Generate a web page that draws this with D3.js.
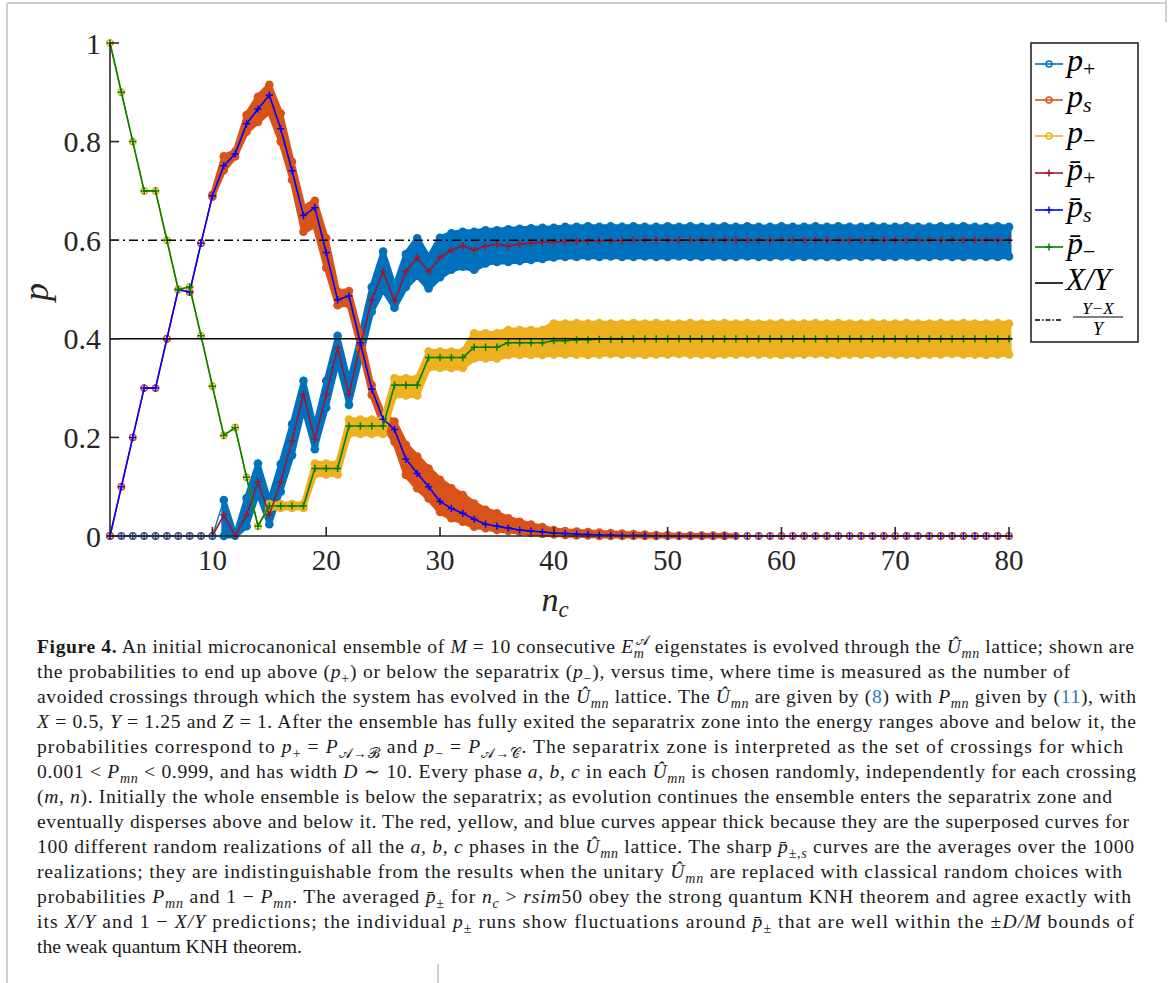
<!DOCTYPE html>
<html><head><meta charset="utf-8">
<script src="https://cdn.jsdelivr.net/npm/d3@7"></script>
<style>body{margin:0;background:#fff;} svg{display:block;}</style>
</head><body>
<svg id="c" width="1170" height="983"></svg>
<script>
// ---------------- DATA ----------------
const nc = [1,2,3,4,5,6,7,8,9,10,11,12,13,14,15,16,17,18,19,20,21,22,23,24,25,26,27,28,29,30,31,32,33,34,35,36,37,38,39,40,41,42,43,44,45,46,47,48,49,50,51,52,53,54,55,56,57,58,59,60,61,62,63,64,65,66,67,68,69,70,71,72,73,74,75,76,77,78,79,80];

// averaged curves (1000 realizations)
const pBarPlus = [0,0,0,0,0,0,0,0,0,0,
  0.043,0,0.043,0.11,0.043,0.11,0.193,0.287,0.196,0.287,
  0.381,0.288,0.387,0.479,0.536,0.477,0.536,0.565,0.536,0.565,
  0.58,0.588,0.58,0.588,0.592,0.588,0.592,0.594,0.596,0.596,
  0.597,0.598,0.598,0.599,0.599,0.599,0.6,0.6,0.6,0.6,
  0.6,0.6,0.6,0.6,0.6,0.6,0.6,0.6,0.6,0.6,
  0.6,0.6,0.6,0.6,0.6,0.6,0.6,0.6,0.6,0.6,
  0.6,0.6,0.6,0.6,0.6,0.6,0.6,0.6,0.6,0.6];
const pBarS = [0,0.1,0.2,0.3,0.3,0.4,0.5,0.495,0.594,0.69,
  0.751,0.775,0.836,0.866,0.894,0.826,0.741,0.65,0.666,0.575,
  0.479,0.487,0.392,0.298,0.237,0.216,0.156,0.127,0.1,0.07,
  0.056,0.046,0.034,0.024,0.02,0.016,0.012,0.01,0.008,0.006,
  0.005,0.004,0.003,0.002,0.002,0.001,0.001,0.001,0,0,
  0,0,0,0,0,0,0,0,0,0,
  0,0,0,0,0,0,0,0,0,0,
  0,0,0,0,0,0,0,0,0,0];
const pBarMinus = [1,0.9,0.8,0.7,0.7,0.6,0.5,0.505,0.406,0.304,
  0.204,0.22,0.119,0.02,0.061,0.061,0.061,0.061,0.137,0.137,
  0.137,0.223,0.223,0.223,0.223,0.306,0.306,0.306,0.362,0.362,
  0.362,0.362,0.383,0.383,0.383,0.392,0.392,0.392,0.392,0.396,
  0.396,0.398,0.398,0.399,0.399,0.399,0.4,0.4,0.4,0.4,
  0.4,0.4,0.4,0.4,0.4,0.4,0.4,0.4,0.4,0.4,
  0.4,0.4,0.4,0.4,0.4,0.4,0.4,0.4,0.4,0.4,
  0.4,0.4,0.4,0.4,0.4,0.4,0.4,0.4,0.4,0.4];

// spread of the 100 individual realizations (lowest / highest curve)
const pPlusLo = [0,0,0,0,0,0,0,0,0,0,
  0,0,0.02,0.088,0.024,0.09,0.164,0.26,0.176,0.26,
  0.355,0.266,0.36,0.455,0.5,0.463,0.505,0.528,0.502,0.525,
  0.54,0.546,0.54,0.553,0.556,0.556,0.558,0.56,0.562,0.565,
  0.566,0.566,0.567,0.566,0.567,0.566,0.566,0.567,0.566,0.566,
  0.567,0.566,0.566,0.567,0.566,0.566,0.567,0.566,0.566,0.567,
  0.566,0.566,0.567,0.566,0.566,0.567,0.566,0.567,0.566,0.566,
  0.567,0.566,0.566,0.567,0.566,0.566,0.567,0.566,0.566,0.567];
const pPlusHi = [0,0,0,0,0,0,0,0,0,0,
  0.073,0,0.077,0.147,0.07,0.146,0.227,0.315,0.22,0.315,
  0.406,0.312,0.405,0.505,0.577,0.505,0.572,0.604,0.565,0.605,
  0.614,0.617,0.617,0.62,0.62,0.622,0.623,0.624,0.625,0.625,
  0.627,0.627,0.628,0.627,0.628,0.627,0.628,0.627,0.627,0.628,
  0.627,0.628,0.627,0.627,0.628,0.627,0.628,0.627,0.627,0.628,
  0.627,0.627,0.628,0.627,0.628,0.627,0.627,0.628,0.627,0.627,
  0.628,0.627,0.627,0.628,0.627,0.628,0.627,0.627,0.628,0.627];
const pSLo = [0,0.1,0.2,0.3,0.3,0.4,0.5,0.495,0.594,0.688,
  0.742,0.77,0.82,0.84,0.861,0.8,0.722,0.617,0.63,0.544,
  0.468,0.47,0.381,0.286,0.225,0.191,0.124,0.097,0.076,0.049,
  0.036,0.029,0.019,0.016,0.012,0.01,0.008,0.006,0.004,0.003,
  0.002,0.001,0.001,0,0,0,0,0,0,0,
  0,0,0,0,0,0,0,0,0,0,
  0,0,0,0,0,0,0,0,0,0,
  0,0,0,0,0,0,0,0,0,0];
const pSHi = [0,0.1,0.2,0.3,0.3,0.4,0.5,0.495,0.594,0.692,
  0.77,0.78,0.854,0.891,0.915,0.857,0.759,0.665,0.68,0.604,
  0.496,0.497,0.408,0.306,0.245,0.232,0.185,0.161,0.137,0.114,
  0.097,0.083,0.066,0.053,0.046,0.036,0.029,0.023,0.018,0.012,
  0.01,0.009,0.008,0.007,0.006,0.005,0.004,0.003,0.002,0.002,
  0.001,0.001,0.001,0.001,0.001,0,0,0,0,0,
  0,0,0,0,0,0,0,0,0,0,
  0,0,0,0,0,0,0,0,0,0];
const pMinusLo = [1,0.9,0.8,0.7,0.7,0.6,0.5,0.505,0.406,0.304,
  0.204,0.22,0.119,0.02,0.057,0.057,0.057,0.057,0.125,0.125,
  0.125,0.207,0.207,0.207,0.207,0.285,0.285,0.285,0.341,0.341,
  0.341,0.341,0.36,0.36,0.36,0.367,0.367,0.367,0.367,0.368,
  0.368,0.368,0.367,0.368,0.369,0.368,0.368,0.367,0.368,0.368,
  0.369,0.368,0.368,0.367,0.368,0.368,0.369,0.368,0.368,0.367,
  0.368,0.368,0.369,0.368,0.367,0.368,0.368,0.368,0.369,0.368,
  0.368,0.367,0.368,0.368,0.369,0.368,0.368,0.367,0.368,0.368];
const pMinusHi = [1,0.9,0.8,0.7,0.7,0.6,0.5,0.505,0.406,0.304,
  0.204,0.22,0.119,0.02,0.065,0.065,0.065,0.065,0.147,0.147,
  0.147,0.236,0.236,0.236,0.236,0.32,0.32,0.32,0.374,0.374,
  0.374,0.374,0.411,0.411,0.411,0.418,0.418,0.418,0.418,0.431,
  0.431,0.432,0.431,0.432,0.431,0.431,0.432,0.431,0.432,0.431,
  0.431,0.432,0.431,0.431,0.432,0.431,0.432,0.431,0.431,0.432,
  0.431,0.431,0.432,0.431,0.432,0.431,0.431,0.432,0.431,0.431,
  0.432,0.431,0.431,0.432,0.431,0.432,0.431,0.431,0.432,0.431];

const XoverY = 0.4;        // X/Y
const YminusXoverY = 0.6;  // (Y-X)/Y
const xTicks = [10,20,30,40,50,60,70,80];
const yTicks = [0,0.2,0.4,0.6,0.8,1];
const yTickLabels = ['0','0.2','0.4','0.6','0.8','1'];

// ---------------- DRAW ----------------
const svg = d3.select('#c');
const x = d3.scaleLinear().domain([1,80]).range([110,1009]);
const y = d3.scaleLinear().domain([0,1]).range([536,43]);

const C = {plus:'#0072BD', s:'#D95319', minus:'#EDB120', bPlus:'#A2142F', bS:'#0000FF', bMinus:'#008000', ax:'#262626'};
const serif = "'Liberation Serif','DejaVu Serif',serif";

// page frame lines
const frame = svg.append('g').attr('stroke','#cfcfcf').attr('stroke-width',2);
frame.append('line').attr('x1',7).attr('x2',7).attr('y1',3).attr('y2',983);
frame.append('line').attr('x1',7).attr('x2',1166).attr('y1',3).attr('y2',3);
frame.append('line').attr('x1',1166).attr('x2',1166).attr('y1',0).attr('y2',22);
frame.append('line').attr('x1',438).attr('x2',438).attr('y1',964).attr('y2',983);

const plot = svg.append('g');

function band(lo, hi, color){
  const g = plot.append('g');
  const w = lo.map((v,i)=>hi[i]-v);
  const thick = d3.area().defined((d,i)=> w[i]>0 || (i>0 && w[i-1]>0))
      .x((d,i)=>x(nc[i])).y0((d,i)=>y(lo[i])).y1((d,i)=>y(hi[i]));
  g.append('path').datum(nc).attr('d',thick).attr('fill',color).attr('stroke',color)
    .attr('stroke-width',5).attr('stroke-linejoin','round');
  const ln = vals => d3.line().x((d,i)=>x(nc[i])).y((d,i)=>y(vals[i]));
  g.append('path').datum(nc).attr('d',ln(lo)).attr('fill','none').attr('stroke',color).attr('stroke-width',1.3);
  g.append('path').datum(nc).attr('d',ln(hi)).attr('fill','none').attr('stroke',color).attr('stroke-width',1.3);
  nc.forEach((n,i)=>{
    if (w[i]>0){
      [lo[i],hi[i]].forEach(v=> g.append('circle').attr('cx',x(n)).attr('cy',y(v)).attr('r',4.3).attr('fill',color));
    } else {
      g.append('circle').attr('cx',x(n)).attr('cy',y(lo[i])).attr('r',3.2)
        .attr('fill','none').attr('stroke',color).attr('stroke-width',1.5);
    }
  });
}
band(pPlusLo,pPlusHi,C.plus);
band(pSLo,pSHi,C.s);
band(pMinusLo,pMinusHi,C.minus);

const plusPath = 'M-3.6,0H3.6M0,-3.6V3.6';
function meanLine(vals,color){
  const g = plot.append('g');
  g.append('path').datum(nc).attr('d',d3.line().x((d,i)=>x(nc[i])).y((d,i)=>y(vals[i])))
    .attr('fill','none').attr('stroke',color).attr('stroke-width',1.6).attr('stroke-linejoin','round');
  g.selectAll('path.m').data(nc).enter().append('path').attr('class','m')
    .attr('d',plusPath).attr('transform',(d,i)=>`translate(${x(d)},${y(vals[i])})`)
    .attr('stroke',color).attr('stroke-width',1.5);
}
meanLine(pBarPlus,C.bPlus);
meanLine(pBarS,C.bS);
meanLine(pBarMinus,C.bMinus);

plot.append('line').attr('x1',x(1)).attr('x2',1012).attr('y1',y(XoverY)).attr('y2',y(XoverY))
  .attr('stroke','#000').attr('stroke-width',1.6);
plot.append('line').attr('x1',x(1)).attr('x2',1012).attr('y1',y(YminusXoverY)).attr('y2',y(YminusXoverY))
  .attr('stroke','#000').attr('stroke-width',1.6).attr('stroke-dasharray','9,4,2,4');

// axes
const ax = svg.append('g');
ax.append('line').attr('x1',x(1)).attr('x2',x(1)).attr('y1',y(1)).attr('y2',y(0)).attr('stroke',C.ax).attr('stroke-width',1.6);
ax.append('line').attr('x1',x(1)).attr('x2',1012).attr('y1',y(0)).attr('y2',y(0)).attr('stroke',C.ax).attr('stroke-width',1.6);
yTicks.forEach((t,i)=>{
  ax.append('line').attr('x1',x(1)).attr('x2',x(1)+9).attr('y1',y(t)).attr('y2',y(t)).attr('stroke',C.ax).attr('stroke-width',1.6);
  ax.append('text').attr('x',x(1)-9).attr('y',y(t)).attr('dy','0.35em').attr('text-anchor','end')
    .attr('font-family',serif).attr('font-size',30).attr('fill',C.ax).text(yTickLabels[i]);
});
xTicks.forEach(t=>{
  ax.append('line').attr('x1',x(t)).attr('x2',x(t)).attr('y1',y(0)).attr('y2',y(0)-9).attr('stroke',C.ax).attr('stroke-width',1.6);
  ax.append('text').attr('x',x(t)).attr('y',570).attr('text-anchor','middle')
    .attr('font-family',serif).attr('font-size',29).attr('fill',C.ax).text(t);
});
// axis labels
ax.append('text').attr('transform','translate(48,292) rotate(-90)').attr('text-anchor','middle')
  .attr('font-family',serif).attr('font-style','italic').attr('font-size',36).attr('fill',C.ax).text('p');
const xl = ax.append('text').attr('x',555).attr('y',611).attr('text-anchor','middle')
  .attr('font-family',serif).attr('font-style','italic').attr('font-size',34).attr('fill',C.ax);
xl.append('tspan').text('n');
xl.append('tspan').attr('font-size',23).attr('dy',6).text('c');

// legend
const lg = svg.append('g');
lg.append('rect').attr('x',1031).attr('y',43).attr('width',107).attr('height',299)
  .attr('fill','#fff').attr('stroke',C.ax).attr('stroke-width',1.6);
const legendItems = [
  {c:C.plus, m:'o', base:'p', sub:'+', bar:false},
  {c:C.s, m:'o', base:'p', sub:'s', bar:false},
  {c:C.minus, m:'o', base:'p', sub:'\u2212', bar:false},
  {c:C.bPlus, m:'+', base:'p', sub:'+', bar:true},
  {c:C.bS, m:'+', base:'p', sub:'s', bar:true},
  {c:C.bMinus, m:'+', base:'p', sub:'\u2212', bar:true}
];
const ly = [64,100,136,173,210,247,283,320];
legendItems.forEach((it,i)=>{
  lg.append('line').attr('x1',1035).attr('x2',1063).attr('y1',ly[i]).attr('y2',ly[i]).attr('stroke',it.c).attr('stroke-width',1.6);
  if (it.m==='o') lg.append('circle').attr('cx',1049).attr('cy',ly[i]).attr('r',3).attr('fill','none').attr('stroke',it.c).attr('stroke-width',1.5);
  else lg.append('path').attr('d',plusPath).attr('transform',`translate(1049,${ly[i]})`).attr('stroke',it.c).attr('stroke-width',1.5);
  const t = lg.append('text').attr('x',1067).attr('y',ly[i]+7).attr('font-family',serif).attr('font-style','italic')
    .attr('font-size',32).attr('fill','#000');
  t.append('tspan').text(it.bar ? 'p\u0304' : 'p');
  t.append('tspan').attr('font-size',22).attr('dy',5).attr('font-style', it.sub==='s'?'italic':'normal').text(it.sub);
});
lg.append('line').attr('x1',1035).attr('x2',1063).attr('y1',ly[6]).attr('y2',ly[6]).attr('stroke','#000').attr('stroke-width',1.6);
lg.append('text').attr('x',1066).attr('y',ly[6]+7).attr('font-family',serif).attr('font-style','italic')
  .attr('font-size',31).attr('fill','#000').text('X/Y');
lg.append('line').attr('x1',1035).attr('x2',1063).attr('y1',ly[7]).attr('y2',ly[7]).attr('stroke','#000').attr('stroke-width',1.6).attr('stroke-dasharray','5,2,1.5,2');
lg.append('text').attr('x',1098).attr('y',ly[7]-6).attr('text-anchor','middle').attr('font-family',serif).attr('font-style','italic')
  .attr('font-size',17).attr('fill','#000').text('Y\u2212X');
lg.append('line').attr('x1',1073).attr('x2',1123).attr('y1',ly[7]-3).attr('y2',ly[7]-3).attr('stroke','#000').attr('stroke-width',1.2);
lg.append('text').attr('x',1098).attr('y',ly[7]+15).attr('text-anchor','middle').attr('font-family',serif).attr('font-style','italic')
  .attr('font-size',18).attr('fill','#000').text('Y');

// ---------------- CAPTION ----------------
const U = 'U\u0302';
const captionLines = [
  [['Figure 4.','b'],[' An initial microcanonical ensemble of ',''],['M','i'],[' = 10 consecutive ',''],['E','i'],['m','i_'],['\ud835\udc9c','^<'],[' eigenstates is evolved through the ',''],[U,'i'],['mn','i_'],[' lattice; shown are','']],
  [['the probabilities to end up above (',''],['p','i'],['+','_'],[') or below the separatrix (',''],['p','i'],['\u2212','_'],['), versus time, where time is measured as the number of','']],
  [['avoided crossings through which the system has evolved in the ',''],[U,'i'],['mn','i_'],[' lattice. The ',''],[U,'i'],['mn','i_'],[' are given by (',''],['8','L'],[') with ',''],['P','i'],['mn','i_'],[' given by (',''],['11','L'],['), with','']],
  [['X','i'],[' = 0.5, ',''],['Y','i'],[' = 1.25 and ',''],['Z','i'],[' = 1. After the ensemble has fully exited the separatrix zone into the energy ranges above and below it, the','']],
  [['probabilities correspond to ',''],['p','i'],['+','_'],[' = ',''],['P','i'],['\ud835\udc9c\u2192\u212c','_'],[' and ',''],['p','i'],['\u2212','_'],[' = ',''],['P','i'],['\ud835\udc9c\u2192\ud835\udc9e','_'],['. The separatrix zone is interpreted as the set of crossings for which','']],
  [['0.001 < ',''],['P','i'],['mn','i_'],[' < 0.999, and has width ',''],['D','i'],[' \u223c 10. Every phase ',''],['a, b, c','i'],[' in each ',''],[U,'i'],['mn','i_'],[' is chosen randomly, independently for each crossing','']],
  [['(',''],['m, n','i'],['). Initially the whole ensemble is below the separatrix; as evolution continues the ensemble enters the separatrix zone and','']],
  [['eventually disperses above and below it. The red, yellow, and blue curves appear thick because they are the superposed curves for','']],
  [['100 different random realizations of all the ',''],['a, b, c','i'],[' phases in the ',''],[U,'i'],['mn','i_'],[' lattice. The sharp ',''],['p\u0304','i'],['\u00b1,','_'],['s','i_'],[' curves are the averages over the 1000','']],
  [['realizations; they are indistinguishable from the results when the unitary ',''],[U,'i'],['mn','i_'],[' are replaced with classical random choices with','']],
  [['probabilities ',''],['P','i'],['mn','i_'],[' and 1 \u2212 ',''],['P','i'],['mn','i_'],['. The averaged ',''],['p\u0304','i'],['\u00b1','_'],[' for ',''],['n','i'],['c','i_'],[' > ',''],['rsim','i'],['50 obey the strong quantum KNH theorem and agree exactly with','']],
  [['its ',''],['X/Y','i'],[' and 1 \u2212 ',''],['X/Y','i'],[' predictions; the individual ',''],['p','i'],['\u00b1','_'],[' runs show fluctuations around ',''],['p\u0304','i'],['\u00b1','_'],[' that are well within the \u00b1',''],['D/M','i'],[' bounds of','']],
  [['the weak quantum KNH theorem.','']]
];
const lineEnds = [1134,1070,1136,1136,1123,1136,1112,1129,1134,1122,1131,1134,null];
const cap = svg.append('g').attr('font-family',serif).attr('font-size',19.6).attr('fill','#1a1a1a');
captionLines.forEach((line,li)=>{
  const t = cap.append('text').attr('x',37).attr('y',653+li*25);
  if (lineEnds[li]) t.attr('textLength',lineEnds[li]-37).attr('lengthAdjust','spacing');
  let shift = 0;
  line.forEach(([s,f])=>{
    const ts = t.append('tspan').text(s);
    if (f.includes('b')) ts.attr('font-weight','bold');
    if (f.includes('i')) ts.attr('font-style','italic');
    const target = f.includes('_') ? 5 : f.includes('^') ? -8 : 0;
    if (target !== shift){ ts.attr('dy', target-shift); shift = target; }
    if (f.includes('_') || f.includes('^')) ts.attr('font-size',14);
    if (f.includes('<')) ts.attr('dx',-9);
    if (f.includes('L')) ts.attr('fill','#2a7ab8');
  });
});
</script>
</body></html>
